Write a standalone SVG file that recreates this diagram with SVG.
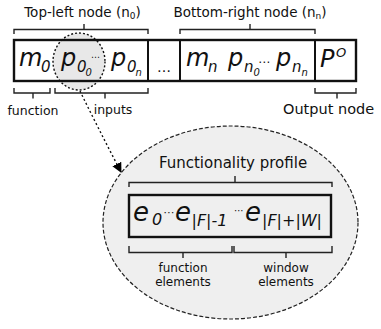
<svg xmlns="http://www.w3.org/2000/svg" width="381" height="329" viewBox="0 0 381 329">
<style>
text{font-family:"DejaVu Sans","Liberation Sans",sans-serif;fill:#111}
.lbl{font-size:13.5px}
.sm{font-size:12.5px}
.el{font-size:12px}
.m{font-style:italic}
.big{font-size:24px}
.sub{font-size:15px}
.ss{font-size:10px}
.br{fill:none;stroke:#222;stroke-width:1.4}
.box{fill:none;stroke:#111;stroke-width:2.4}
</style>
<defs>
<marker id="ah" viewBox="0 0 10 10" refX="9" refY="5" markerWidth="10" markerHeight="10" markerUnits="userSpaceOnUse" orient="auto">
<path d="M0,0 L10,5 L0,10 z" fill="#000"/>
</marker>
</defs>
<rect width="381" height="329" fill="#fff"/>

<g id="profile-ellipse">
<ellipse cx="230.5" cy="222.5" rx="127.5" ry="96.5" fill="#efefef" stroke="#222" stroke-width="1.2" stroke-dasharray="4,2"/>
</g>

<g id="chromosome">
<rect x="14" y="40" width="342" height="41" fill="#fff"/>
<ellipse cx="79" cy="61.5" rx="26" ry="28.5" fill="#e8e8e8" stroke="#111" stroke-width="1.4" stroke-dasharray="2,2"/>
<rect class="box" x="14" y="40" width="342" height="41"/>
<line x1="148" y1="40" x2="148" y2="81" stroke="#111" stroke-width="2"/>
<line x1="180" y1="40" x2="180" y2="81" stroke="#111" stroke-width="2"/>
<line x1="315" y1="40" x2="315" y2="81" stroke="#111" stroke-width="2"/>
</g>

<g id="node-n0">
<text class="m"><tspan class="big" x="19" y="66">m</tspan><tspan class="sub" x="41" y="72">0</tspan><tspan class="big" x="61" y="66">p</tspan><tspan class="sub" x="77" y="72">0</tspan><tspan class="ss" x="85.5" y="76">0</tspan><tspan style="font-size:9px" x="91" y="60">⋯</tspan><tspan class="big" x="111" y="66">p</tspan><tspan class="sub" x="127" y="72">0</tspan><tspan class="ss" x="135.5" y="76">n</tspan></text>
</g>

<g id="ellipsis-nodes">
<text x="157" y="72" style="font-size:14px">…</text>
</g>

<g id="node-nn">
<text class="m"><tspan class="big" x="186" y="66">m</tspan><tspan class="sub" x="208" y="72">n</tspan><tspan class="big" x="228" y="66">p</tspan><tspan class="sub" x="244" y="72">n</tspan><tspan class="ss" x="253.5" y="76">0</tspan><tspan style="font-size:12px" x="258" y="66">⋯</tspan><tspan class="big" x="276" y="66">p</tspan><tspan class="sub" x="292" y="72">n</tspan><tspan class="ss" x="301.5" y="76">n</tspan></text>
</g>

<g id="output-node">
<text class="m"><tspan class="big" x="320" y="67">P</tspan><tspan style="font-size:13px" x="336" y="57">O</tspan></text>
</g>

<g id="top-labels">
<path class="br" d="M14,34 V29.5 H148 V34 M84,29.5 V24"/>
<text class="lbl" x="82.5" y="16.5" text-anchor="middle">Top-left node (n<tspan style="font-size:9px" dy="2.5">0</tspan><tspan dy="-2.5">)</tspan></text>
<path class="br" d="M180,34 V29.5 H315 V34 M250,29.5 V24"/>
<text class="lbl" x="250" y="16.5" text-anchor="middle">Bottom-right node (n<tspan style="font-size:9px" dy="2.5">n</tspan><tspan dy="-2.5">)</tspan></text>
</g>

<g id="bottom-labels">
<path class="br" d="M14,88 V93 H50 V88 M33,93 V98.5"/>
<text class="sm" x="33" y="115" text-anchor="middle">function</text>
<path class="br" d="M55,88 V93 H148 V88 M105,93 V98.5"/>
<text class="sm" x="113" y="114" text-anchor="middle">inputs</text>
<path class="br" d="M315,88 V93 H356 V88 M337,93 V98.5"/>
<text x="283" y="114" style="font-size:14.5px">Output node</text>
</g>

<g id="connectors">
<path d="M80,91 Q99,130 121,172" fill="none" stroke="#111" stroke-width="1.4" stroke-dasharray="2,2.5" marker-end="url(#ah)"/>
</g>

<g id="functionality-profile">
<text x="233" y="168" text-anchor="middle" style="font-size:15px">Functionality profile</text>
<path class="br" d="M129,187 V182.5 H332 V187 M235,182.5 V176"/>
<rect class="box" x="129" y="195" width="202" height="42" fill="#f4f4f4"/>
<text class="m"><tspan style="font-size:26px" x="133" y="221">e</tspan><tspan style="font-size:16px" x="152" y="225">0</tspan><tspan style="font-size:11px" x="163.5" y="216">⋯</tspan><tspan style="font-size:26px" x="175" y="221">e</tspan><tspan style="font-size:16px" x="191.5" y="226">|F|-1</tspan><tspan style="font-size:10px" x="234" y="214">⋯</tspan><tspan style="font-size:26px" x="245" y="221">e</tspan><tspan style="font-size:16px" x="262" y="226">|F|+|W|</tspan></text>
<path class="br" d="M129,246 V252.5 H232 V246 M183,252.5 V258"/>
<path class="br" d="M234,246 V252.5 H332 V246 M286,252.5 V258"/>
<text class="el" text-anchor="middle"><tspan x="183" y="271.5">function</tspan><tspan x="183" y="285.5">elements</tspan></text>
<text class="el" text-anchor="middle"><tspan x="286" y="271.5">window</tspan><tspan x="286" y="285.5">elements</tspan></text>
</g>
</svg>
